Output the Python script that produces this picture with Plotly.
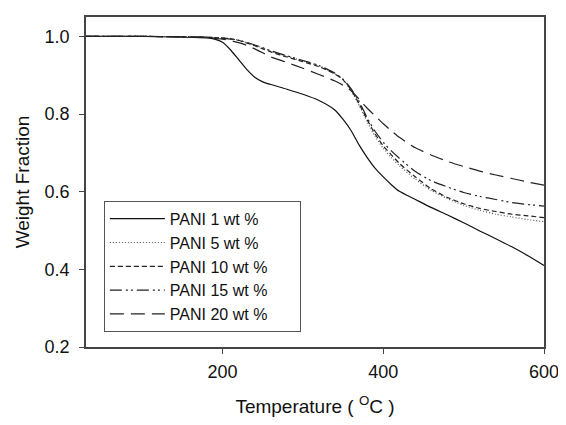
import plotly.graph_objects as go

temps = [30, 100, 150, 180, 190, 200, 210, 220, 230, 240, 250, 260, 280, 300, 320, 340, 350, 360,
         370, 380, 390, 400, 410, 420, 440, 460, 480, 500, 520, 540, 560, 580, 600]

pani1 = [1.0, 1.0, 0.998, 0.996, 0.993, 0.985, 0.965, 0.94, 0.915, 0.895, 0.883, 0.876, 0.864, 0.851,
         0.835, 0.81, 0.786, 0.757, 0.72, 0.688, 0.66, 0.638, 0.618, 0.601, 0.580, 0.559, 0.540, 0.520,
         0.499, 0.479, 0.458, 0.435, 0.41]
pani5 = [1.0, 1.0, 0.999, 0.998, 0.997, 0.996, 0.994, 0.99, 0.984, 0.977, 0.97, 0.962, 0.949, 0.937,
         0.924, 0.904, 0.888, 0.86, 0.822, 0.78, 0.742, 0.712, 0.688, 0.667, 0.632, 0.603, 0.582, 0.565,
         0.552, 0.542, 0.535, 0.528, 0.523]
pani10 = [1.0, 1.0, 0.999, 0.998, 0.997, 0.996, 0.994, 0.99, 0.983, 0.976, 0.968, 0.96, 0.947, 0.935,
          0.922, 0.903, 0.888, 0.862, 0.826, 0.785, 0.748, 0.718, 0.695, 0.673, 0.638, 0.607, 0.585,
          0.569, 0.557, 0.549, 0.542, 0.538, 0.533]
pani15 = [1.0, 1.0, 0.999, 0.998, 0.997, 0.995, 0.993, 0.99, 0.985, 0.978, 0.971, 0.963, 0.95, 0.938,
          0.925, 0.905, 0.89, 0.865, 0.832, 0.79, 0.755, 0.727, 0.705, 0.686, 0.652, 0.628, 0.612,
          0.598, 0.588, 0.58, 0.572, 0.567, 0.563]
pani20 = [1.0, 1.0, 0.999, 0.997, 0.995, 0.993, 0.989, 0.984, 0.977, 0.968, 0.958, 0.947, 0.933, 0.918,
          0.902, 0.885, 0.874, 0.86, 0.838, 0.815, 0.795, 0.775, 0.757, 0.740, 0.713, 0.694, 0.678,
          0.665, 0.653, 0.643, 0.634, 0.625, 0.617]

names = ["PANI 1 wt %", "PANI 5 wt %", "PANI 10 wt %", "PANI 15 wt %", "PANI 20 wt %"]
series = [pani1, pani5, pani10, pani15, pani20]
dashes = ["solid", "1px,2px", "5px,3px", "12px,4px,2px,3px,2px,4px", "14px,7px"]
colors = ["#111111", "#555555", "#222222", "#222222", "#222222"]

fig = go.Figure()
for n, s, d, c in zip(names, series, dashes, colors):
    fig.add_trace(go.Scatter(x=temps, y=s, mode="lines", name=n + "\u00a0" * 6,
                             line=dict(color=c, width=1.2, dash=d, shape="spline", smoothing=0.6)))

font = dict(family="Liberation Sans, Arial, sans-serif", color="#111111")
# page body has an 8px margin, so the figure is sized/offset to compensate
fig.update_layout(
    width=558, height=417,
    margin=dict(l=78, r=19, t=7, b=78),
    paper_bgcolor="white", plot_bgcolor="white",
    font=dict(size=16, **font),
    showlegend=True,
    legend=dict(x=0.039, y=0.443, xanchor="left", yanchor="top",
                bordercolor="#555555", borderwidth=1, bgcolor="white",
                font=dict(size=16, **font), tracegroupgap=0, itemwidth=55),
    xaxis=dict(range=[30, 600], tickvals=[200, 400, 600], ticks="outside", ticklen=5,
               tickcolor="#444444", showline=True, linecolor="#444444", linewidth=1.5,
               mirror=True, showgrid=False, zeroline=False, ticklabelstandoff=3,
               tickfont=dict(size=18, **font),
               title=dict(text="Temperature ( <sup>O</sup>C )", font=dict(size=19, **font), standoff=18)),
    yaxis=dict(range=[0.2, 1.05], tickvals=[0.2, 0.4, 0.6, 0.8, 1.0], ticktext=["0.2", "0.4", "0.6", "0.8", "1.0"],
               ticks="outside", ticklen=5,
               tickcolor="#444444", showline=True, linecolor="#444444", linewidth=1.5,
               mirror=True, showgrid=False, zeroline=False, ticklabelstandoff=6,
               tickfont=dict(size=18, **font),
               title=dict(text="Weight Fraction", font=dict(size=19, **font), standoff=10)),
)
fig.write_html("out.html")
